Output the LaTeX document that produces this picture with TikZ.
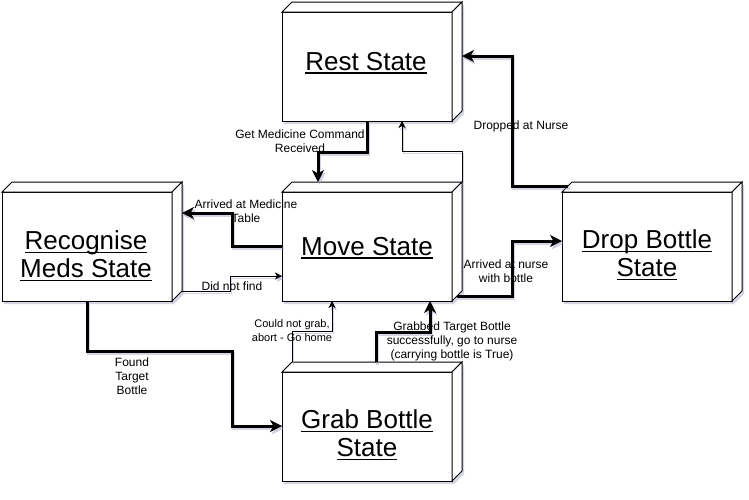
\documentclass[tikz,border=0pt]{standalone}
\usepackage{fontspec}
\setmainfont{Liberation Sans}
\usetikzlibrary{arrows.meta,calc}

\definecolor{shadowc}{RGB}{160,162,195}

% underline drawn as a rule just below the baseline
\newcommand\ulin[1]{\setbox0=\hbox{#1}\rlap{\rule[-3.6pt]{\wd0}{1.4pt}}\box0}

% 3D state box: name, left, top of the outer bounding box (180 x 119)
\newcommand\statebox[3]{%
  \fill[shadowc, opacity=0.45] ({#2+2},{#3+13}) -- ({#2+12},{#3+3}) -- ({#2+182},{#3+3})
    -- ({#2+182},{#3+112}) -- ({#2+172},{#3+122}) -- ({#2+2},{#3+122}) -- cycle;
  \draw[boxline] ({#2},{#3+10}) rectangle ({#2+170},{#3+119});
  \draw[boxline] ({#2},{#3+10}) -- ({#2+10},{#3}) -- ({#2+180},{#3}) -- ({#2+170},{#3+10}) -- cycle;
  \draw[boxline] ({#2+170},{#3+10}) -- ({#2+180},{#3}) -- ({#2+180},{#3+109}) -- ({#2+170},{#3+119}) -- cycle;
  \node[boxouter] (#1) at ({#2+90},{#3+59.5}) {};
}

% connector with a soft offset shadow underneath
\newcommand\conn[2]{%
  \begin{scope}[transform canvas={shift={(1.5pt,-2.5pt)}}]
    \draw[#1, draw=shadowc, opacity=0.45] #2;
  \end{scope}
  \draw[#1] #2;
}

\tikzset{
  boxline/.style={draw=black, line width=1pt, line join=miter, fill=white},
  boxouter/.style={rectangle, minimum width=180pt, minimum height=119pt, inner sep=0pt, outer sep=0pt},
  statetext/.style={font=\fontsize{26}{28.5}\selectfont, align=center, inner sep=0pt},
  lbl/.style={font=\fontsize{12}{14}\selectfont, align=center, inner sep=0pt},
  lblsmall/.style={font=\fontsize{11}{14}\selectfont, align=center, inner sep=0pt},
  heavy/.style={line width=3pt, line join=miter, -{Stealth[length=12pt,width=12pt,inset=3.5pt,line width=0.5pt]}},
  light/.style={line width=1pt, line join=miter, -{Stealth[length=7pt,width=7pt,inset=2pt,line width=0.5pt]}},
}

\begin{document}
\begin{tikzpicture}[x=1pt, y=-1pt]
  \useasboundingbox (0,0) rectangle (749,499);
  \fill[white] (0,0) rectangle (749,499);

  % state boxes
  \statebox{rest}{282}{2}
  \statebox{move}{282}{182}
  \statebox{rec}{2}{182}
  \statebox{drop}{562}{182}
  \statebox{grab}{282}{362}

  \node[statetext] (rest-t) at (366,63) {\ulin{Rest State}};
  \node[statetext] (move-t) at (367,248) {\ulin{Move State}};
  \node[statetext] (rec-t) at (86,256) {\ulin{Recognise}\\\ulin{Meds State}};
  \node[statetext] (drop-t) at (647,255) {\ulin{Drop Bottle}\\\ulin{State}};
  \node[statetext] (grab-t) at (367,435) {\ulin{Grab Bottle}\\\ulin{State}};

  % transitions
  \conn{heavy}{($(rest.south)+(-5,0)$) |- (318,152) -- (318,0 |- move.north)}
  \conn{light}{(move.north east) |- (402,151) -- (402,0 |- rest.south)}
  \conn{heavy}{($(drop.north west)+(6,4)$) -| (512,56) -- (rest.east |- 0,56)}
  \conn{heavy}{(move.west |- 0,246) -| (232,213) -- (rec.east |- 0,213)}
  \conn{light}{($(rec.south east)+(0,-10)$) -| (230,276) -- (move.west |- 0,276)}
  \conn{heavy}{($(rec.south)+(-5,0)$) |- (232,351) |- (grab.west |- 0,426)}
  \conn{light}{($(grab.north west)+(10,0)$) |- (332,331) -- (332,0 |- move.south)}
  \conn{heavy}{(376,0 |- grab.north) |- (430,332) -- (430,0 |- move.south)}
  \conn{heavy}{($(move.south east)+(-5,-5)$) -| (512,241) -- (drop.west |- 0,241)}

  % transition labels
  \node[lbl] (l-get) at (300,141) {Get Medicine Command\\Received};
  \node[lbl] (l-drop) at (521,126) {Dropped at Nurse};
  \node[lbl] (l-table) at (246,211) {Arrived at Medicine\\Table};
  \node[lbl] (l-notfound) at (232,286) {Did not find};
  \node[lbl] (l-found) at (132,376) {Found\\Target\\Bottle};
  \node[lblsmall] (l-abort) at (292,331) {Could not grab,\\abort - Go home};
  \node[lbl] (l-grabbed) at (452,341) {Grabbed Target Bottle\\successfully, go to nurse\\(carrying bottle is True)};
  \node[lbl] (l-nurse) at (506,271) {Arrived at nurse\\with bottle};
\end{tikzpicture}
\end{document}
